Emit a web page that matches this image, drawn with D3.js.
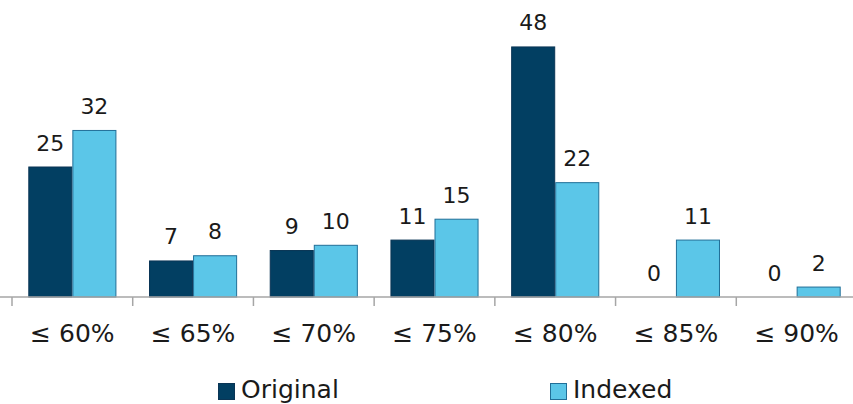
<!DOCTYPE html>
<html>
<head>
<meta charset="utf-8">
<script src="https://cdn.jsdelivr.net/npm/d3@7"></script>
<style>
  body { margin: 0; background: #fff; }
  svg { display: block; }
  text { font-family: "DejaVu Sans", Verdana, sans-serif; fill: #1a1a1a; }
</style>
</head>
<body>
<svg id="chart" width="853" height="404"></svg>
<script>
// Данные
const categories = ['≤ 60%', '≤ 65%', '≤ 70%', '≤ 75%', '≤ 80%', '≤ 85%', '≤ 90%'];
const seriesNames = ['Original', 'Indexed'];
const originalValues = [25, 7, 9, 11, 48, 0, 0];
const indexedValues = [32, 8, 10, 15, 22, 11, 2];

const COLORS = {
    Original: { fill: '#023f62', stroke: '#0a3555' },
    Indexed: { fill: '#5bc6e8', stroke: '#216f98' }
};

const svg = d3.select('#chart');
const baseY = 297;

const x = d3.scaleBand()
    .domain(categories)
    .range([12, 857])
    .paddingInner(0)
    .paddingOuter(0);

// Внутренняя шкала для серий внутри категории
const inner = d3.scaleBand()
    .domain(seriesNames)
    .range([0, x.bandwidth()])
    .paddingOuter(0.37)
    .paddingInner(0);

const y = d3.scaleLinear().domain([0, 50]).range([baseY, 36]);

const rows = categories.map((c, i) => ({
    cat: c,
    vals: [
        { key: 'Original', v: originalValues[i] },
        { key: 'Indexed', v: indexedValues[i] }
    ]
}));

// Столбцы
const groups = svg.selectAll('g.cat')
    .data(rows)
    .enter().append('g')
    .attr('class', 'cat')
    .attr('transform', d => `translate(${x(d.cat)},0)`);

groups.selectAll('rect')
    .data(d => d.vals.filter(s => s.v > 0))
    .enter().append('rect')
    .attr('x', s => inner(s.key) + 0.5)
    .attr('y', s => y(s.v) + 0.5)
    .attr('width', inner.bandwidth() - 1)
    .attr('height', s => baseY - y(s.v) - 0.5)
    .attr('fill', s => COLORS[s.key].fill)
    .attr('stroke', s => COLORS[s.key].stroke)
    .attr('stroke-width', 1);

// Подписи значений
groups.selectAll('text.val')
    .data(d => d.vals)
    .enter().append('text')
    .attr('class', 'val')
    .attr('x', s => inner(s.key) + inner.bandwidth() / 2)
    .attr('y', s => y(s.v) - 16)
    .attr('text-anchor', 'middle')
    .attr('font-size', 22)
    .text(s => s.v);

// Ось X
const axis = svg.append('g')
    .attr('transform', `translate(0,${baseY})`);

axis.append('line')
    .attr('x1', 0).attr('x2', 853)
    .attr('stroke', '#a6a6a6').attr('stroke-width', 1.5);

axis.selectAll('line.tick')
    .data(categories)
    .enter().append('line')
    .attr('class', 'tick')
    .attr('x1', d => x(d)).attr('x2', d => x(d))
    .attr('y1', 0).attr('y2', 9)
    .attr('stroke', '#a6a6a6').attr('stroke-width', 1.5);

axis.selectAll('text')
    .data(categories)
    .enter().append('text')
    .attr('x', d => x(d) + x.bandwidth() / 2)
    .attr('y', 45)
    .attr('text-anchor', 'middle')
    .attr('font-size', 25)
    .text(d => d);

// Легенда
const legendX = [218, 550];
const legend = svg.selectAll('g.legend')
    .data(seriesNames)
    .enter().append('g')
    .attr('class', 'legend')
    .attr('transform', (d, i) => `translate(${legendX[i]},383)`);

legend.append('rect')
    .attr('width', 16).attr('height', 16)
    .attr('x', 0.5).attr('y', 0.5)
    .attr('fill', d => COLORS[d].fill)
    .attr('stroke', d => COLORS[d].stroke);

legend.append('text')
    .attr('x', 23)
    .attr('y', 15)
    .attr('font-size', 25)
    .text(d => d);
</script>
</body>
</html>
